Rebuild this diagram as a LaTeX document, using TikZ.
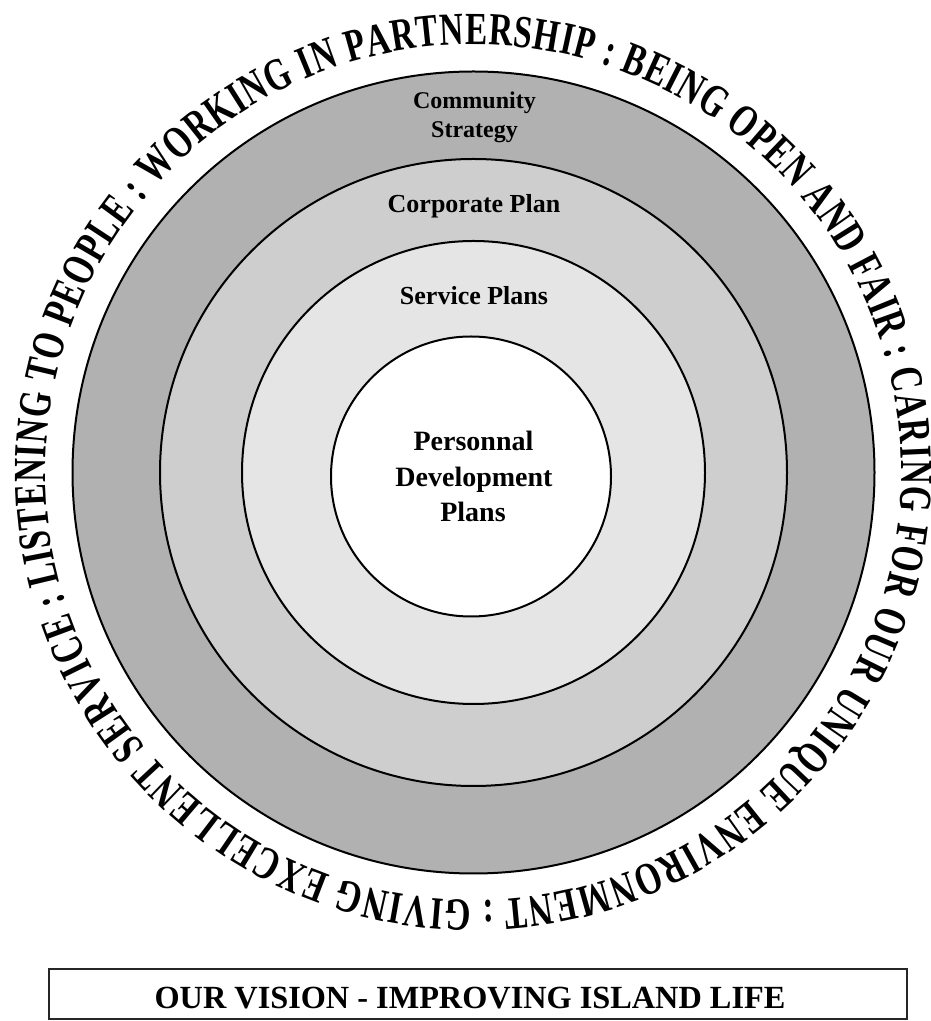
\documentclass[tikz,border=0pt]{standalone}
\usepackage{fontspec}
\setmainfont{Liberation Serif}
\newfontfamily\ringfont[FakeStretch=0.72]{Liberation Serif}
\usetikzlibrary{decorations.text}

\definecolor{bandouter}{RGB}{177,177,177}
\definecolor{bandmid}{RGB}{206,206,206}
\definecolor{bandinner}{RGB}{229,229,229}

\newcommand\mottofont{\ringfont\bfseries\fontsize{46}{46}\selectfont}

\tikzset{
  band/.style={draw=black, line width=2pt},
  planlabel/.style={anchor=base, inner sep=0pt, font=\bfseries\fontsize{#1}{#1}\selectfont},
  motto/.style={decorate, decoration={text along path, text align=fit to path,
      text={|\mottofont|#1}}},
}

\begin{document}
\begin{tikzpicture}[x=1pt,y=1pt]
\useasboundingbox (0,0) rectangle (931,1021);

% concentric planning rings
\begin{scope}[shift={(473.5,548.5)}]
  \filldraw[band, fill=bandouter] (0,0) circle[radius=401pt];
  \filldraw[band, fill=bandmid]   (0,0) circle[radius=313.5pt];
  \filldraw[band, fill=bandinner] (0,0) circle[radius=231.5pt];
  \filldraw[band, fill=white]     (-2.5,-4) circle[radius=140pt];

  % values written clockwise round the outside
  \path[motto={: GIVING EXCELLENT SERVICE}]
    (272.74:428pt) arc[start angle=272.74, end angle=198.99, radius=428pt];
  \path[motto={: LISTENING TO PEOPLE}]
    (197.68:428pt) arc[start angle=197.68, end angle=142.22, radius=428pt];
  \path[motto={: WORKING IN PARTNERSHIP}]
    (140.91:428pt) arc[start angle=140.91, end angle=74.10, radius=428pt];
  \path[motto={: BEING OPEN AND FAIR}]
    (72.79:428pt) arc[start angle=72.79, end angle=18.00, radius=428pt];
  \path[motto={: CARING FOR OUR UNIQUE ENVIRONMENT}]
    (16.69:428pt) arc[start angle=16.69, end angle=-85.95, radius=428pt];
\end{scope}

% ring labels
\node[planlabel=24] (cs1) at (474.5,912.7) {Community};
\node[planlabel=24] (cs2) at (474.5,883.7) {Strategy};
\node[planlabel=26] (cp)  at (474,808.3) {Corporate Plan};
\node[planlabel=26] (sp)  at (474,716) {Service Plans};
\node[planlabel=28] (pd1) at (473.5,570.3) {Personnal};
\node[planlabel=28] (pd2) at (474,534.3) {Development};
\node[planlabel=28] (pd3) at (473,499.3) {Plans};

% vision banner
\draw[line width=1.6pt, draw=black!85] (49,52) rectangle (907,2);
\node[planlabel=32.3] (vision) at (470,12.7) {OUR VISION - IMPROVING ISLAND LIFE};
\end{tikzpicture}
\end{document}
